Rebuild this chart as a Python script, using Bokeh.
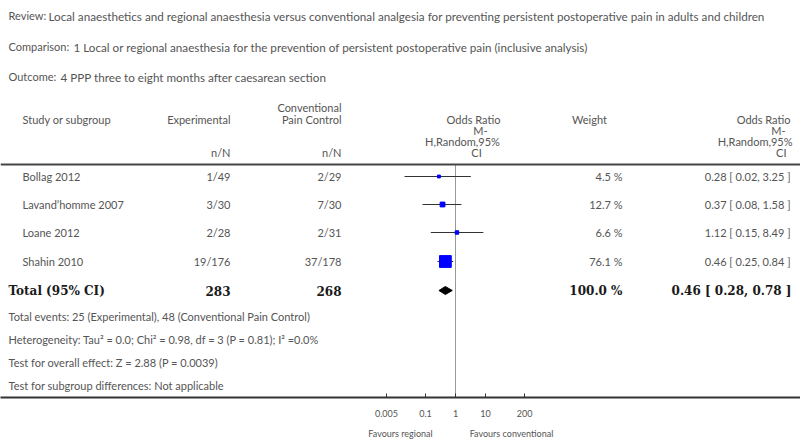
from bokeh.plotting import figure
from bokeh.models import (ColumnDataSource, Range1d, LogScale, LogAxis, FixedTicker,
                          CustomJSTickFormatter, Span)
from bokeh.core.properties import value
from bokeh.embed import file_html
from bokeh.resources import INLINE

# ---------------- data ----------------
review = "Local anaesthetics and regional anaesthesia versus conventional analgesia for preventing persistent postoperative pain in adults and children"
comparison = "1 Local or regional anaesthesia for the prevention of persistent postoperative pain (inclusive analysis)"
outcome = "4 PPP three to eight months after caesarean section"

studies = ["Bollag 2012", "Lavand\u2019homme 2007", "Loane 2012", "Shahin 2010"]
exp_events = [1, 3, 2, 19]
exp_total = [49, 30, 28, 176]
ctl_events = [2, 7, 2, 37]
ctl_total = [29, 30, 31, 178]
weights = [4.5, 12.7, 6.6, 76.1]
or_est = [0.28, 0.37, 1.12, 0.46]
ci_low = [0.02, 0.08, 0.15, 0.25]
ci_high = [3.25, 1.58, 8.49, 0.84]

total_exp = 283
total_ctl = 268
total_weight = 100.0
total_or = 0.46
total_low = 0.28
total_high = 0.78

footer_lines = [
    "Total events: 25 (Experimental), 48 (Conventional Pain Control)",
    "Heterogeneity: Tau\u00b2 = 0.0; Chi\u00b2 = 0.98, df = 3 (P = 0.81); I\u00b2 =0.0%",
    "Test for overall effect: Z = 2.88 (P = 0.0039)",
    "Test for subgroup differences: Not applicable",
]
axis_ticks = [0.005, 0.1, 1, 10, 200]
favours_left = "Favours regional"
favours_right = "Favours conventional"

# ---------------- layout ----------------
W, H = 800, 441
AXIS_Y = 397
ONE_X = 455            # pixel position of OR = 1
DEC = 30.0             # pixels per decade

SANS = value("Lato")
SERIF = value("DejaVu Serif")
GREY = "#555555"
DARK = "#1a1a1a"
FS = "11px"
TFS = "11.7px"
BFS = "12px"

p = figure(width=W, height=H, output_backend="svg", toolbar_location=None,
           x_range=Range1d(0, W), y_range=Range1d(AXIS_Y, 0),
           x_axis_location=None, y_axis_location=None,
           min_border_left=0, min_border_right=0, min_border_top=0,
           min_border_bottom=H - AXIS_Y)
p.grid.grid_line_color = None
p.outline_line_color = None
p.background_fill_color = "white"
p.border_fill_color = "white"

p.extra_x_ranges = {"or": Range1d(10 ** ((0 - ONE_X) / DEC), 10 ** ((W - ONE_X) / DEC))}
p.extra_x_scales = {"or": LogScale()}


def txt(x, y, s, align="left", size=FS, font=SANS, style="normal", color=GREY):
    p.text(x=[x], y=[y], text=[s], text_align=align, text_baseline="middle",
           text_font=font, text_font_size=size, text_font_style=style, text_color=color)


txt(8, 15, "Review:")
txt(48, 15, review, size=TFS)
txt(8, 46, "Comparison:")
txt(73, 46, comparison, size=TFS)
txt(8, 76, "Outcome:")
txt(60, 76, outcome, size=TFS)

txt(22, 119, "Study or subgroup")
txt(230, 119, "Experimental", align="right")
txt(341, 107, "Conventional", align="right")
txt(341, 119, "Pain Control", align="right")
txt(230, 152, "n/N", align="right")
txt(341, 152, "n/N", align="right")
txt(473, 119, "Odds Ratio", align="center")
txt(480, 130, "M-", align="center")
txt(462, 141, "H,Random,95%", align="center")
txt(476, 152, "CI", align="center")
txt(589, 119, "Weight", align="center")
txt(790, 119, "Odds Ratio", align="right")
txt(785, 130, "M-", align="right")
txt(792, 141, "H,Random,95%", align="right")
txt(786, 152, "CI", align="right")

p.add_layout(Span(location=164, dimension="width", line_color="#444444", line_width=2))

# study rows
rows_y = [176, 204, 232, 261]
src = ColumnDataSource(dict(
    y=rows_y,
    study=studies,
    exp=[f"{e}/{n}" for e, n in zip(exp_events, exp_total)],
    ctl=[f"{e}/{n}" for e, n in zip(ctl_events, ctl_total)],
    w=[f"{w:.1f} %" for w in weights],
    ortxt=[f"{o:.2f} [ {l:.2f}, {h:.2f} ]" for o, l, h in zip(or_est, ci_low, ci_high)],
    est=or_est, lo=ci_low, hi=ci_high,
    size=[1.35 * w ** 0.5 for w in weights],
))
common = dict(source=src, y="y", text_baseline="middle", text_font=SANS,
              text_font_size=FS, text_color=GREY)
p.text(x=22, text="study", text_align="left", **common)
p.text(x=230, text="exp", text_align="right", **common)
p.text(x=341, text="ctl", text_align="right", **common)
p.text(x=622, text="w", text_align="right", **common)
p.text(x=790, text="ortxt", text_align="right", **common)

# forest plot
p.segment(x0=1, x1=1, y0=164, y1=AXIS_Y, x_range_name="or", line_color="#999999", line_width=1)
p.segment(x0="lo", x1="hi", y0="y", y1="y", source=src, x_range_name="or",
          line_color="#333333", line_width=1)
p.scatter(x="est", y="y", size="size", marker="square", source=src, x_range_name="or",
          fill_color="#0000ff", line_color="#0000ff")

# total row
TY = 290
txt(8, TY, "Total (95% CI)", size=BFS, font=SERIF, style="bold", color=DARK)
txt(230, TY, str(total_exp), align="right", size=BFS, font=SERIF, style="bold", color=DARK)
txt(341, TY, str(total_ctl), align="right", size=BFS, font=SERIF, style="bold", color=DARK)
txt(622, TY, f"{total_weight:.1f} %", align="right", size=BFS, font=SERIF, style="bold", color=DARK)
txt(791, TY, f"{total_or:.2f} [ {total_low:.2f}, {total_high:.2f} ]", align="right",
    size=BFS, font=SERIF, style="bold", color=DARK)
p.patch(x=[total_low, total_or, total_high, total_or], y=[TY, TY - 4, TY, TY + 4],
        x_range_name="or", fill_color="black", line_color="black")

for i, s in enumerate(footer_lines):
    txt(8, 316 + 23 * i, s)

# axis with tick labels
ax = LogAxis(x_range_name="or", ticker=FixedTicker(ticks=axis_ticks, minor_ticks=[]),
             formatter=CustomJSTickFormatter(code="return tick.toString()"))
ax.axis_line_width = 2
ax.axis_line_color = "#333333"
ax.major_tick_in = 4
ax.major_tick_out = 0
ax.major_tick_line_color = "#333333"
ax.minor_tick_in = 0
ax.minor_tick_out = 0
ax.major_label_text_font = "Lato"
ax.major_label_text_font_size = "9px"
ax.major_label_text_color = GREY
ax.major_label_standoff = 12
p.add_layout(ax, "below")

# second axis carrying the "Favours" captions
fav_pos = [10 ** ((400 - ONE_X) / DEC), 10 ** ((511 - ONE_X) / DEC)]
ax2 = LogAxis(x_range_name="or", ticker=FixedTicker(ticks=fav_pos, minor_ticks=[]),
              formatter=CustomJSTickFormatter(args=dict(a=favours_left, b=favours_right),
                                              code="return tick < 1 ? a : b"))
ax2.axis_line_color = None
ax2.major_tick_line_color = None
ax2.minor_tick_line_color = None
ax2.major_tick_in = 0
ax2.major_tick_out = 0
ax2.major_label_text_font = "Lato"
ax2.major_label_text_font_size = "9px"
ax2.major_label_text_color = GREY
ax2.major_label_standoff = 8
p.add_layout(ax2, "below")

open("out.html", "w").write(file_html(p, INLINE))
